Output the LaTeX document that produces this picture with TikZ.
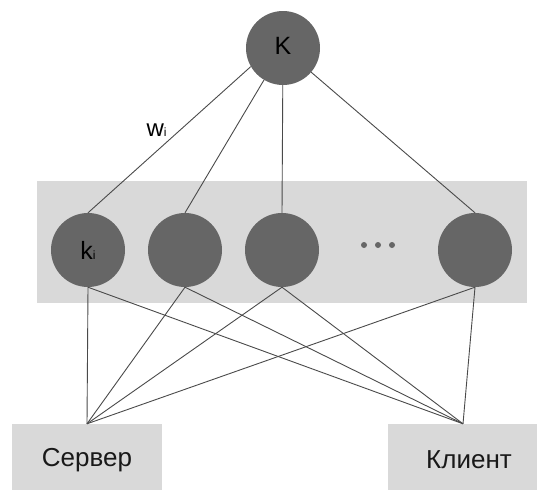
\documentclass[tikz,border=0pt]{standalone}
\usepackage{fontspec}
\setmainfont{Liberation Sans}
\begin{document}
\begin{tikzpicture}[x=1pt,y=-1pt,
  unit/.style={circle,fill=nodegray,minimum size=74pt,inner sep=0pt,font=\fontsize{25}{30}\selectfont},
  panel/.style={fill=panelgray,draw=none,inner sep=0pt},
  boxtext/.style={font=\fontsize{26}{30}\selectfont,text=black!90},
  link/.style={draw=linegray,line width=0.9pt},
  dot/.style={circle,fill=nodegray,minimum size=6pt,inner sep=0pt}]
\definecolor{nodegray}{HTML}{666666}
\definecolor{panelgray}{HTML}{D9D9D9}
\definecolor{linegray}{HTML}{4A4A4A}
\useasboundingbox (0,0) rectangle (537,490);
% layer band behind the hidden units
\node[panel,minimum width=490pt,minimum height=122pt] (band) at (282,242) {};
% end-point boxes
\node[panel,minimum width=150pt,minimum height=66pt] (srv) at (87,457) {};
\node[panel,minimum width=150pt,minimum height=66pt] (cli) at (463,457) {};
\node[boxtext] (srvtext) at (87,460) {Сервер};
\node[boxtext] (clitext) at (469,460) {Клиент};
% units
\node[unit] (K) at (283,48) {\raisebox{4pt}{K}};
\node[unit] (k1) at (88,250) {k\fontsize{12}{14}\selectfont i};
\node[unit] (k2) at (185,250) {};
\node[unit] (k3) at (282,250) {};
\node[unit] (k4) at (475,250) {};
\node[dot] (d1) at (364,245) {};
\node[dot] (d2) at (378,245) {};
\node[dot] (d3) at (392,245) {};
% top layer weights
\draw[link] (K.210) -- (k1.north) node[pos=0.5,above left=-1pt,font=\fontsize{24}{28}\selectfont,text=black] (w) {w\fontsize{12}{14}\selectfont i};
\draw[link] (K) -- (k2.north);
\draw[link] (K) -- (k3.north);
\draw[link] (K) -- (k4.north);
% bottom connections to server and client
\foreach \u in {k1,k2,k3,k4}{
  \draw[link] (\u.south) -- (srv.north);
  \draw[link] (\u.south) -- (cli.north);
}
\end{tikzpicture}
\end{document}
